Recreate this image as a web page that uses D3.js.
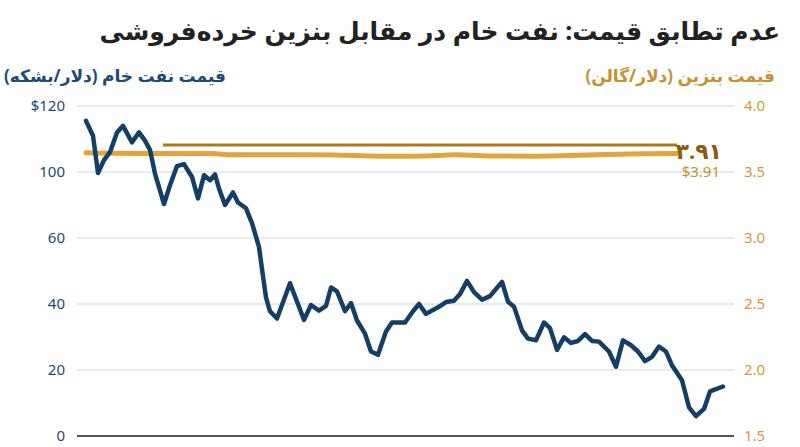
<!DOCTYPE html>
<html><head><meta charset="utf-8">
<script src="https://cdn.jsdelivr.net/npm/d3@7"></script>
<style>body{margin:0;background:#fff;font-family:"Noto Sans","DejaVu Sans",sans-serif;}</style>
</head><body><div class="chart"></div>
<script>
// crude oil ($/barrel), x = days from start of the period
const crudeDays = [0,7,12,18,24,31,37,46,53,59,64,69,78,84,91,98,106,112,118,124,129,133,139,147,152,160,166,173,177,180,184,191,204,218,225,233,240,245,251,259,265,271,279,285,292,300,306,319,327,333,340,352,360,368,374,381,388,396,404,416,422,428,436,442,450,458,464,471,478,485,492,499,506,513,523,530,537,545,552,559,566,573,580,586,596,603,610,618,624,637];
const crudeVals = [115.5,111,99.4,103.6,106,112,114,109,112,109.5,106.7,99,80.6,92,101.8,102.4,97,84,98,95,98.5,90,80,87.6,81.5,78,69,57.3,48.4,42,37.8,35.6,46.3,35.2,39.7,38,39.4,45,43.8,37.8,40.3,35,31,25.6,24.6,31.7,34.4,34.4,37.8,40,37,39,40.6,41,43,47,43.6,41.3,42.4,46.7,40.7,39.2,32,29.5,29,34.4,32.7,26.1,29.9,28.2,28.8,30.9,28.8,28.6,25.6,21,29,27.5,25.6,22.7,24,27.1,25.6,21.4,16.9,8.7,6,8.2,13.5,15];
// retail gasoline ($/gallon)
const gasDays = [0,60,126,145,201,248,295,323,351,370,408,445,483,520,558,591];
const gasVals = [3.645,3.64,3.64,3.63,3.63,3.628,3.62,3.62,3.625,3.63,3.622,3.62,3.625,3.632,3.638,3.64];
const refStart = 77, refEnd = 591, refVal = 3.705;
const leftTicks = [0,20,40,60,100,120];
const rightTicks = [1.5,2.0,2.5,3.0,3.5,4.0];

const W = 800, H = 447;
const margin = {top: 106, right: 66, bottom: 11, left: 77};
const width = W - margin.left - margin.right, height = H - margin.top - margin.bottom;

const svg = d3.select(".chart").append("svg").attr("width", W).attr("height", H);
const g = svg.append("g").attr("transform", "translate(" + margin.left + "," + margin.top + ")");

let x = d3.scaleLinear().domain([-9, 648]).range([0, width]);
// left axis labels are evenly spaced even though 80 is skipped
let yL = d3.scaleLinear().domain(leftTicks).range(leftTicks.map((d, i) => height - i * height / 5));
let yR = d3.scaleLinear().domain([1.5, 4.0]).range([height, 0]);

g.selectAll(".grid").data(rightTicks.slice(1)).enter().append("line")
    .attr("x1", 0).attr("x2", width)
    .attr("y1", d => yR(d)).attr("y2", d => yR(d))
    .attr("stroke", "#e3e3e3").attr("stroke-width", 1.5);
g.append("line").attr("x1", 0).attr("x2", width).attr("y1", height).attr("y2", height)
    .attr("stroke", "#555").attr("stroke-width", 2);

g.selectAll(".lt").data(leftTicks).enter().append("text")
    .attr("x", -12).attr("y", d => yL(d)).attr("dy", "0.35em").attr("text-anchor", "end")
    .attr("fill", "#1d4a75").attr("font-size", 15)
    .text(d => d === 120 ? "$120" : d);
g.selectAll(".rt").data(rightTicks).enter().append("text")
    .attr("x", width + 10).attr("y", d => yR(d)).attr("dy", "0.35em")
    .attr("fill", "#d49a3a").attr("font-size", 15)
    .text(d => d.toFixed(1));

// reference line
g.append("line").attr("x1", x(refStart)).attr("x2", x(refEnd))
    .attr("y1", yR(refVal)).attr("y2", yR(refVal))
    .attr("stroke", "#b07a12").attr("stroke-width", 3);

g.append("path").datum(gasDays.map((d, i) => [d, gasVals[i]]))
    .attr("fill", "none").attr("stroke", "#e3a43c").attr("stroke-width", 5).attr("stroke-linecap", "round")
    .attr("d", d3.line().x(d => x(d[0])).y(d => yR(d[1])).curve(d3.curveMonotoneX));

g.append("path").datum(crudeDays.map((d, i) => [d, crudeVals[i]]))
    .attr("fill", "none").attr("stroke", "#143e66").attr("stroke-width", 4.5)
    .attr("stroke-linejoin", "round").attr("stroke-linecap", "round")
    .attr("d", d3.line().x(d => x(d[0])).y(d => yL(d[1])));

g.append("text").attr("x", width - 12).attr("y", yR(3.655)).attr("dy", "0.35em")
    .attr("text-anchor", "end").attr("fill", "#8a5c0a").attr("font-size", 22).attr("font-weight", "bold")
    .text("۳.۹۱");
g.append("text").attr("x", width - 14).attr("y", yR(3.5)).attr("dy", "0.35em")
    .attr("text-anchor", "end").attr("fill", "#c8902e").attr("font-size", 15)
    .text("$3.91");

svg.append("text").attr("x", 780).attr("y", 40).attr("text-anchor", "end")
    .attr("font-size", 25).attr("font-weight", "bold").attr("fill", "#222")
    .text("عدم تطابق قیمت: نفت خام در مقابل بنزین خرده‌فروشی");
svg.append("text").attr("x", 226).attr("y", 82).attr("text-anchor", "start").attr("direction", "rtl")
    .attr("font-size", 17).attr("font-weight", "bold").attr("fill", "#1d4a75")
    .text("قیمت نفت خام (دلار/بشکه)");
svg.append("text").attr("x", 775).attr("y", 82).attr("text-anchor", "start").attr("direction", "rtl")
    .attr("font-size", 17).attr("font-weight", "bold").attr("fill", "#c8902e")
    .text("قیمت بنزین (دلار/گالن)");
</script></body></html>
